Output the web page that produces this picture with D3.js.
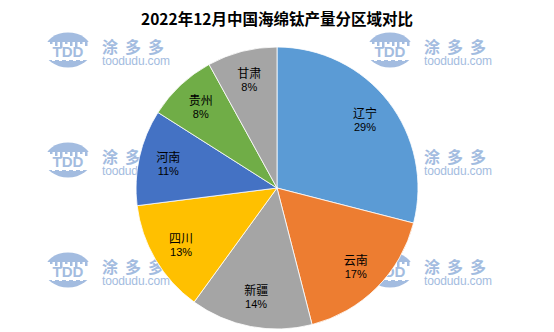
<!DOCTYPE html>
<html><head><meta charset="utf-8">
<script src="https://cdn.jsdelivr.net/npm/d3@7"></script>
<style>body{margin:0;background:#fff}svg{display:block}</style>
</head><body><div id="chart"></div>
<script>
const title = "2022年12月中国海绵钛产量分区域对比";
const regions = ["辽宁","云南","新疆","四川","河南","贵州","甘肃"];
const shares = [29,17,14,13,11,8,8];
const colors = ["#5B9BD5","#ED7D31","#A5A5A5","#FFC000","#4472C4","#70AD47","#A5A5A5"];
const wmCols = [0,1];
const wmRows = [0,1,2];

const W=554,H=332;
const svg=d3.select("#chart").append("svg").attr("width",W).attr("height",H);
svg.append("rect").attr("width",W).attr("height",H).attr("fill","#fff");

// watermarks
const wmC="#a3bce0";
const wx=d3.scaleLinear().domain([0,1]).range([68,390]);
const wy=d3.scaleLinear().domain([0,2]).range([50,270]);
const defs=svg.append("defs");
defs.append("clipPath").attr("id","lg").append("ellipse").attr("cx",0).attr("cy",0).attr("rx",23.5).attr("ry",17.5);
const wm=svg.append("g");
wmRows.forEach(r=>wmCols.forEach(c=>{
  const g=wm.append("g").attr("transform",`translate(${wx(c)},${wy(r)})`);
  const lg=g.append("g").attr("clip-path","url(#lg)");
  lg.append("rect").attr("x",-24).attr("y",-18).attr("width",48).attr("height",10).attr("fill",wmC);
  [-18,-13,-8,-3,2,7,12,17].forEach((dx,i)=>{
    lg.append("rect").attr("x",dx).attr("y",-9).attr("width",2.5).attr("height",3+(i%3)*2).attr("fill",wmC);
  });
  lg.append("rect").attr("x",-24).attr("y",10).attr("width",48).attr("height",10).attr("fill",wmC);
  [-16,-9,-2,5,12].forEach((dx,i)=>{
    lg.append("rect").attr("x",dx).attr("y",9).attr("width",3).attr("height",2).attr("fill","#fff");
  });
  g.append("text").attr("x",0).attr("y",7).attr("text-anchor","middle")
    .attr("font-family","Liberation Sans, Arial, sans-serif").attr("font-weight","bold")
    .attr("font-size",15).attr("fill",wmC).text("TDD");
  g.append("text").attr("x",34).attr("y",3).attr("font-family","Noto Sans CJK SC")
    .attr("font-weight","bold").attr("font-size",16).attr("letter-spacing",7).attr("fill",wmC).text("涂多多");
  g.append("text").attr("x",34).attr("y",15).attr("font-family","Liberation Sans, Arial, sans-serif")
    .attr("font-size",12).attr("fill",wmC).attr("textLength",68).text("toodudu.com");
}));

// title
svg.append("text").attr("x",277).attr("y",25).attr("text-anchor","middle")
  .attr("font-family","Noto Sans CJK SC").attr("font-weight","bold").attr("font-size",15.5)
  .attr("fill","#000").text(title);

// pie
const cx=277,cy=188,R=141;
const data=regions.map((n,i)=>({name:n,value:shares[i],color:colors[i]}));
const pie=d3.pie().sort(null).value(d=>d.value);
const arc=d3.arc().innerRadius(0).outerRadius(R);
const lab=d3.arc().innerRadius(R*0.79).outerRadius(R*0.79);
const g=svg.append("g").attr("transform",`translate(${cx},${cy})`);
const arcs=pie(data);
g.selectAll("path").data(arcs).join("path").attr("d",arc)
  .attr("fill",d=>d.data.color).attr("stroke","#fff").attr("stroke-width",0.8);
const lg2=g.selectAll("g.l").data(arcs).join("g").attr("class","l")
  .attr("transform",d=>`translate(${lab.centroid(d)})`);
lg2.append("text").attr("y",-2).attr("text-anchor","middle")
  .attr("font-family","Noto Sans CJK SC").attr("font-size",12).attr("fill","#000").text(d=>d.data.name);
lg2.append("text").attr("y",11).attr("text-anchor","middle")
  .attr("font-family","Liberation Sans, Arial, sans-serif").attr("font-size",11).attr("fill","#000")
  .text(d=>d.data.value+"%");
</script></body></html>
